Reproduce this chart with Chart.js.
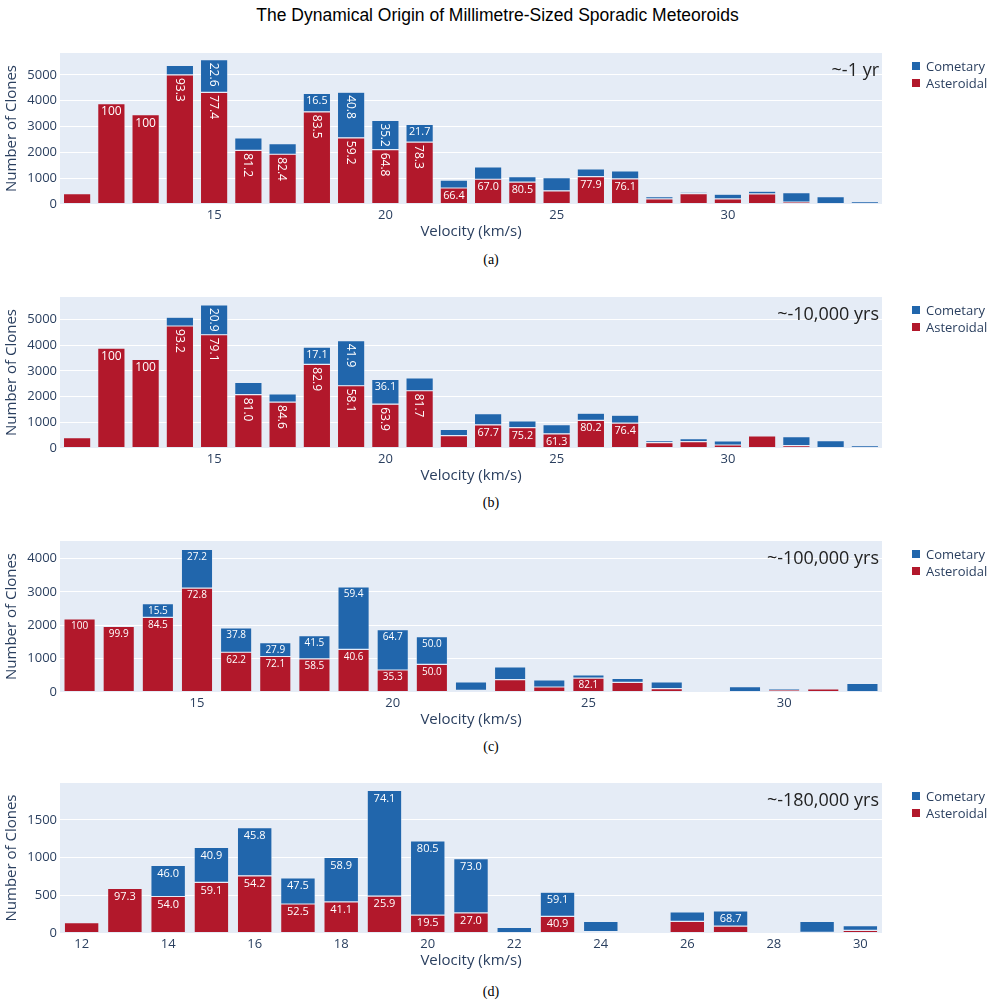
<!DOCTYPE html>
<html>
<head>
<meta charset="utf-8">
<script src="https://cdn.jsdelivr.net/npm/chart.js@4.4.1/dist/chart.umd.min.js"></script>
<style>
  body { margin: 0; background: #fff; }
  #page { position: relative; width: 995px; height: 1004px; overflow: hidden; }
  .title { position: absolute; left: 0; top: 5px; width: 995px; text-align: center;
           font: 17.5px "Liberation Sans", sans-serif; color: #000; line-height: 20px; }
  .panel { position: absolute; left: 0; }
  .cap { position: absolute; left: 441px; width: 100px; text-align: center;
         font: 14px "Liberation Serif", serif; color: #000; line-height: 16px; }
</style>
</head>
<body>
<div id="page">
  <div class="title">The Dynamical Origin of Millimetre-Sized Sporadic Meteoroids</div>
  <canvas class="panel" id="pa" width="995" height="202" style="top:40px"></canvas>
  <div class="cap" style="top:252px">(a)</div>
  <canvas class="panel" id="pb" width="995" height="202" style="top:284px"></canvas>
  <div class="cap" style="top:495px">(b)</div>
  <canvas class="panel" id="pc" width="995" height="202" style="top:528px"></canvas>
  <div class="cap" style="top:739px">(c)</div>
  <canvas class="panel" id="pd" width="995" height="201" style="top:770px"></canvas>
  <div class="cap" style="top:984px">(d)</div>
</div>
<script>
// ---- data (clone counts per 1 km/s velocity bin) ----

// (a) ~-1 yr
const velA = [11,12,13,14,15,16,17,18,19,20,21,22,23,24,25,26,27,28,29,30,31,32,33,34];
const astA = [405,3890,3460,5000,4325,2078,1928,3570,2563,2105,2400,620,958,850,510,1057,970,196,405,196,392,78,0,0];
const comA = [0,0,0,366,1263,481,409,712,1771,1133,681,307,478,207,508,301,309,91,52,183,104,366,287,91];
const astPctA = [null,'100','100','93.3','77.4','81.2','82.4','83.5','59.2','64.8','78.3','66.4','67.0','80.5',null,'77.9','76.1',null,null,null,null,null,null,null];
const comPctA = [null,null,null,null,'22.6',null,null,'16.5','40.8','35.2','21.7',null,null,null,null,null,null,null,null,null,null,null,null,null];

// (b) ~-10,000 yrs
const velB = [11,12,13,14,15,16,17,18,19,20,21,22,23,24,25,26,27,28,29,30,31,32,33,34];
const astB = [404,3893,3451,4750,4410,2075,1790,3258,2425,1706,2230,482,903,794,552,1075,970,208,247,117,470,91,0,0];
const comB = [0,0,0,341,1163,477,319,674,1755,963,504,247,438,261,359,279,306,78,118,156,15,352,286,91];
const astPctB = [null,'100','100','93.2','79.1','81.0','84.6','82.9','58.1','63.9','81.7',null,'67.7','75.2','61.3','80.2','76.4',null,null,null,null,null,null,null];
const comPctB = [null,null,null,null,'20.9',null,null,'17.1','41.9','36.1',null,null,null,null,null,null,null,null,null,null,null,null,null,null];

// (c) ~-100,000 yrs
const velC = [12,13,14,15,16,17,18,19,20,21,22,23,24,25,26,27,28,29,30,31,32];
const astC = [2190,1968,2240,3118,1193,1065,992,1279,660,830,50,370,150,419,290,100,0,0,60,90,0];
const comC = [0,2,410,1162,727,415,698,1871,1210,830,250,380,210,91,120,200,0,160,50,15,260];
const astPctC = ['100','99.9','84.5','72.8','62.2','72.1','58.5','40.6','35.3','50.0',null,null,null,'82.1',null,null,null,null,null,null,null];
const comPctC = [null,null,'15.5','27.2','37.8','27.9','41.5','59.4','64.7','50.0',null,null,null,null,null,null,null,null,null,null,null];

// (d) ~-180,000 yrs
const velD = [12,13,14,15,16,17,18,19,20,21,22,23,24,25,26,27,28,29,30];
const astD = [138,592,484,671,758,385,412,490,238,266,0,221,18,0,155,92,0,9,36];
const comD = [0,16,413,465,640,347,591,1401,983,719,75,320,137,0,125,201,0,146,62];
const astPctD = [null,'97.3','54.0','59.1','54.2','52.5','41.1','25.9','19.5','27.0',null,'40.9',null,null,null,null,null,null,null];
const comPctD = [null,null,'46.0','40.9','45.8','47.5','58.9','74.1','80.5','73.0',null,'59.1',null,null,null,'68.7',null,null,null];

const ticksAC = [15, 20, 25, 30];
const ticksD = [12, 14, 16, 18, 20, 22, 24, 26, 28, 30];

// ---- styling ----
const FONT = '"Open Sans", sans-serif';
const TXT = '#2a3f5f';
const RED = '#b2182b';
const BLUE = '#2166ac';
const PLOT_BG = '#e5ecf6';
const PAD = 3;

// plot background
const plotBg = {
  id: 'plotBg',
  beforeDraw(chart) {
    const a = chart.chartArea, ctx = chart.ctx;
    ctx.save();
    ctx.fillStyle = PLOT_BG;
    ctx.fillRect(a.left, a.top, a.right - a.left, a.bottom - a.top);
    ctx.restore();
  }
};

// percentage text inside each stacked segment (flat, turned or shrunk to fit)
const segLabels = {
  id: 'segLabels',
  afterDatasetsDraw(chart, args, opts) {
    const ctx = chart.ctx;
    chart.data.datasets.forEach((ds, di) => {
      chart.getDatasetMeta(di).data.forEach((bar, i) => {
        const t = ds.pct[i];
        if (!t) return;
        const p = bar.getProps(['x', 'y', 'base', 'width'], true);
        const top = Math.min(p.y, p.base);
        const segH = Math.abs(p.base - p.y);
        ctx.save();
        ctx.font = opts.size + 'px ' + FONT;
        const tw = ctx.measureText(t).width;
        const th = opts.size;
        const avW = p.width - 2 * PAD, avH = segH - 2 * PAD;
        const flat = Math.min(1, avW / tw);
        const turned = Math.min(1, avH / tw, avW / th);
        ctx.fillStyle = '#fff';
        if (turned > flat) {
          const fs = opts.size * turned;
          ctx.font = fs + 'px ' + FONT;
          ctx.translate(p.x, top + PAD);
          ctx.rotate(Math.PI / 2);
          ctx.textAlign = 'left';
          ctx.textBaseline = 'alphabetic';
          ctx.fillText(t, 0, fs * 0.36);
        } else {
          const fs = opts.size * flat;
          ctx.font = fs + 'px ' + FONT;
          ctx.textAlign = 'center';
          ctx.textBaseline = 'alphabetic';
          ctx.fillText(t, p.x, top + PAD + fs * 0.74);
        }
        ctx.restore();
      });
    });
  }
};

// epoch note in the corner + legend to the right of the plot
const panelDecor = {
  id: 'panelDecor',
  afterDraw(chart, args, opts) {
    const a = chart.chartArea, ctx = chart.ctx;
    ctx.save();
    ctx.fillStyle = '#222';
    ctx.font = '18px ' + FONT;
    ctx.textAlign = 'right';
    ctx.textBaseline = 'middle';
    ctx.fillText(opts.note, a.right - 3, a.top + 18);

    ctx.font = '13px ' + FONT;
    ctx.textAlign = 'left';
    const sets = chart.data.datasets.slice().reverse();
    sets.forEach((ds, k) => {
      const y = a.top + 13 + k * 17;
      ctx.fillStyle = ds.backgroundColor;
      ctx.fillRect(a.right + 30, y - 4, 8, 8);
      ctx.fillStyle = TXT;
      ctx.fillText(ds.label, a.right + 44, y + 1);
    });
    ctx.restore();
  }
};

function makePanel(id, cats, ast, com, astPct, comPct, shown, yMax, yStep, note, labelSize) {
  return new Chart(document.getElementById(id), {
    type: 'bar',
    data: {
      labels: cats,
      datasets: [
        { label: 'Asteroidal', data: ast, pct: astPct, backgroundColor: RED,
          borderColor: 'rgba(229,236,246,0.8)', borderWidth: 0.6, borderSkipped: false },
        { label: 'Cometary', data: com, pct: comPct, backgroundColor: BLUE,
          borderColor: 'rgba(229,236,246,0.8)', borderWidth: 0.6, borderSkipped: false }
      ]
    },
    options: {
      responsive: false,
      animation: false,
      events: [],
      layout: { padding: { top: 13, right: 113, left: 0, bottom: 0 } },
      datasets: { bar: { categoryPercentage: 0.8, barPercentage: 1 } },
      plugins: {
        legend: { display: false },
        tooltip: { enabled: false },
        segLabels: { size: labelSize },
        panelDecor: { note: note }
      },
      scales: {
        x: {
          stacked: true,
          offset: true,
          grid: { display: false, drawTicks: false },
          border: { display: false },
          ticks: {
            autoSkip: false, maxRotation: 0, padding: 3, color: TXT,
            font: { family: FONT, size: 13 },
            callback: (v, i) => shown.includes(cats[i]) ? String(cats[i]) : ''
          },
          title: { display: true, text: 'Velocity (km/s)', color: TXT,
                   font: { family: FONT, size: 15 }, padding: { top: 0, bottom: 1 } },
          afterFit: s => { s.height = 38; }
        },
        y: {
          stacked: true,
          min: 0,
          max: yMax,
          grid: { color: '#ffffff', lineWidth: 1, drawTicks: false },
          border: { display: false },
          ticks: { padding: 3, color: TXT, font: { family: FONT, size: 13 },
                   callback: v => String(v) },
          // round-number ticks only, up to the top of the axis
          afterBuildTicks: s => {
            const list = [];
            for (let v = 0; v <= yMax; v += yStep) list.push({ value: v });
            s.ticks = list;
          },
          title: { display: true, text: 'Number of Clones', color: TXT,
                   font: { family: FONT, size: 15 }, padding: { top: 3, bottom: 0 } },
          afterFit: s => { s.width = 60; }
        }
      }
    },
    plugins: [plotBg, segLabels, panelDecor]
  });
}

makePanel('pa', velA, astA, comA, astPctA, comPctA, ticksAC, 5850, 1000, '~-1 yr', 12);
makePanel('pb', velB, astB, comB, astPctB, comPctB, ticksAC, 5880, 1000, '~-10,000 yrs', 12);
makePanel('pc', velC, astC, comC, astPctC, comPctC, ticksAC, 4530, 1000, '~-100,000 yrs', 10);
makePanel('pd', velD, astD, comD, astPctD, comPctD, ticksD, 1990, 500, '~-180,000 yrs', 11);
</script>
</body>
</html>
